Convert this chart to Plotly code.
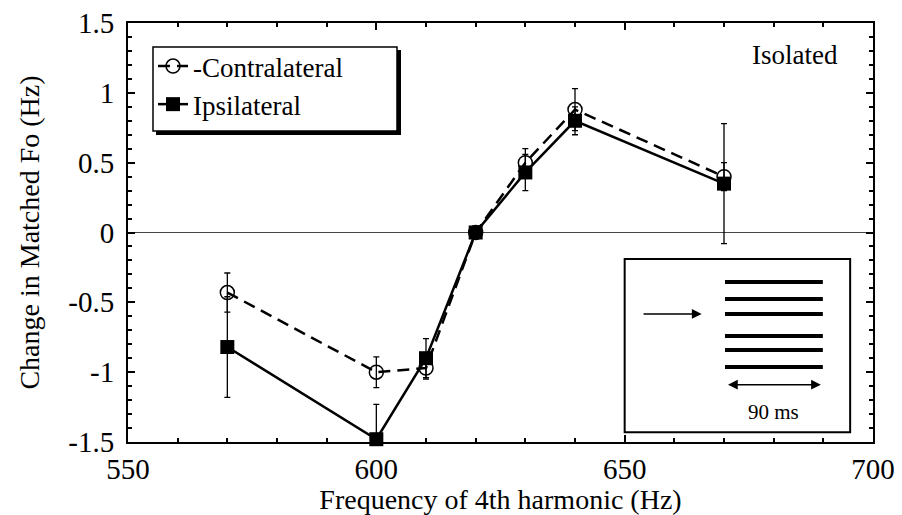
import plotly.graph_objects as go

# ---- data ----
freq = [570, 600, 610, 620, 630, 640, 670]
contra = [-0.43, -1.00, -0.97, 0.0, 0.50, 0.88, 0.40]
contra_err = [0.14, 0.11, 0.08, 0.0, 0.10, 0.15, 0.10]
ipsi = [-0.82, -1.48, -0.90, 0.0, 0.43, 0.80, 0.35]
ipsi_err = [0.36, 0.25, 0.14, 0.0, 0.13, 0.10, 0.43]

x_ticks = [550, 600, 650, 700]
y_ticks = [-1.5, -1, -0.5, 0, 0.5, 1, 1.5]
y_ticktext = ["-1.5", "-1", "-0.5", "0", "0.5", "1", "1.5"]

FONT = "Liberation Serif"

L, R, T, B = 128, 873, 23, 442
PW, PH = R - L, B - T


def px(xp):
    return (xp - L) / PW


def py(yp):
    return (B - yp) / PH


fig = go.Figure()
fig.add_trace(go.Scatter(
    x=freq, y=contra, name="-Contralateral", mode="lines+markers", cliponaxis=False,
    line=dict(color="black", width=2.5, dash="12px,7px"),
    marker=dict(symbol="circle-open", size=14, color="black", line=dict(width=1.5)),
    error_y=dict(type="data", array=contra_err, color="black", thickness=1.3, width=3),
))
fig.add_trace(go.Scatter(
    x=freq, y=ipsi, name="Ipsilateral", mode="lines+markers", cliponaxis=False,
    line=dict(color="black", width=2.5),
    marker=dict(symbol="square", size=14, color="black"),
    error_y=dict(type="data", array=ipsi_err, color="black", thickness=1.3, width=3),
))

shapes = []
# zero line
shapes.append(dict(type="line", xref="paper", yref="y", x0=0, x1=1, y0=0, y1=0,
                   line=dict(color="#444", width=1.2), layer="below"))
# inset box
shapes.append(dict(type="rect", xref="x", yref="y", x0=650, x1=695.4, y0=-1.43, y1=-0.19,
                   line=dict(color="black", width=2), fillcolor="white", layer="above"))
for yy in [-0.354, -0.476, -0.583, -0.741, -0.841, -0.963]:
    shapes.append(dict(type="line", xref="x", yref="y", x0=670.2, x1=689.9, y0=yy, y1=yy,
                       line=dict(color="black", width=4), layer="above"))
# legend shadow and box
shapes.append(dict(type="rect", xref="paper", yref="paper",
                   x0=px(156), x1=px(401), y0=py(135), y1=py(50),
                   line=dict(width=0), fillcolor="black", layer="above"))
shapes.append(dict(type="rect", xref="paper", yref="paper",
                   x0=px(153), x1=px(397), y0=py(131), y1=py(47),
                   line=dict(width=1.5, color="black"), fillcolor="white", layer="above"))

annotations = [
    dict(x=684.3, y=1.27, xref="x", yref="y", text="Isolated", showarrow=False,
         font=dict(size=27, family=FONT, color="black")),
    dict(x=665.5, y=-0.583, ax=653.5, ay=-0.583, xref="x", yref="y", axref="x", ayref="y",
         text="", showarrow=True, arrowhead=2, arrowsize=1.3, arrowwidth=1.5, arrowcolor="black"),
    dict(x=689.5, y=-1.09, ax=670.5, ay=-1.09, xref="x", yref="y", axref="x", ayref="y",
         text="", showarrow=True, arrowhead=2, arrowside="end+start", arrowsize=1.3,
         arrowwidth=1.5, arrowcolor="black"),
    dict(x=679.9, y=-1.285, xref="x", yref="y", text="90 ms", showarrow=False,
         font=dict(size=21, family=FONT, color="black")),
]

fig.update_layout(
    width=902, height=515,
    margin=dict(l=L, r=902 - R, t=T, b=515 - B, autoexpand=False),
    paper_bgcolor="white", plot_bgcolor="white",
    font=dict(family=FONT, size=28, color="black"),
    shapes=shapes, annotations=annotations,
    legend=dict(x=px(153), y=py(42), xanchor="left", yanchor="top",
                bgcolor="rgba(0,0,0,0)", borderwidth=0,
                font=dict(size=27, family=FONT, color="black"),
                tracegroupgap=0),
    showlegend=True,
)
fig.update_xaxes(
    range=[550, 700], tickvals=x_ticks, ticktext=[str(v) for v in x_ticks],
    ticks="inside", ticklen=7, tickwidth=1.5, tickcolor="black",
    minor=dict(dtick=10, ticks="inside", ticklen=4, tickcolor="black", showgrid=False),
    showline=True, linecolor="black", linewidth=2, mirror="ticks",
    showgrid=False, zeroline=False, automargin=False,
    title=dict(text="Frequency of 4th harmonic (Hz)", font=dict(size=28), standoff=0),
    tickfont=dict(size=29),
)
fig.update_yaxes(
    range=[-1.5, 1.5], tickvals=y_ticks, ticktext=y_ticktext,
    ticks="inside", ticklen=7, tickwidth=1.5, tickcolor="black",
    minor=dict(dtick=0.1, ticks="inside", ticklen=4, tickcolor="black", showgrid=False),
    showline=True, linecolor="black", linewidth=2, mirror="ticks",
    showgrid=False, zeroline=False, automargin=False,
    title=dict(text="Change in Matched Fo (Hz)", font=dict(size=28), standoff=20),
    tickfont=dict(size=29), ticklabelstandoff=6,
)

fig.write_html("out.html", config={"displayModeBar": False, "displaylogo": False},
               post_script="document.body.style.margin='0';")
